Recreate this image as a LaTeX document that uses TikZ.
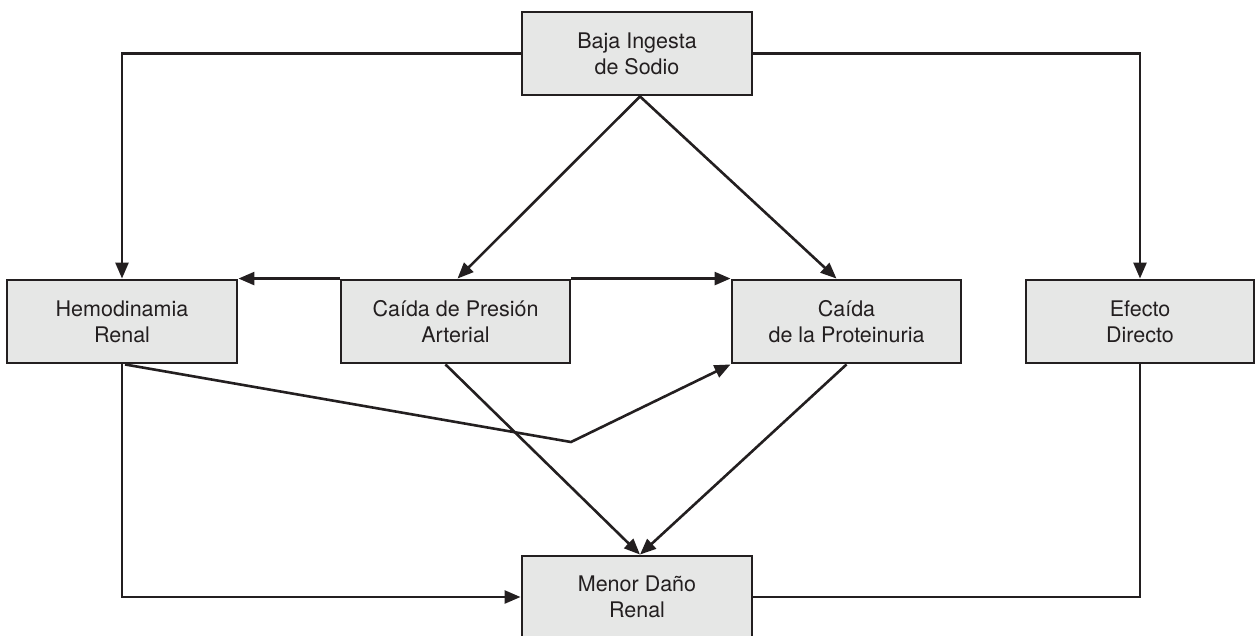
\documentclass[tikz,border=0pt]{standalone}
\usepackage{fontspec}
\setmainfont{TeX Gyre Heros}
\usetikzlibrary{arrows.meta,calc}
\definecolor{boxfill}{HTML}{E6E7E6}
\definecolor{ink}{HTML}{231F20}
\begin{document}
\begin{tikzpicture}[x=1pt,y=-1pt,
  box/.style={draw=ink,fill=boxfill,line width=2.9pt,minimum width=#1,minimum height=83pt,
    inner sep=0pt,align=center,font=\fontsize{21.5}{26}\selectfont,text=ink},
  box/.default=230pt,
  conn/.style={draw=ink,line width=2.6pt},
  arr/.style={conn,-{Triangle[length=16pt,width=13pt]}}]
\useasboundingbox (0,0) rectangle (1256,635);
\node[box] (baja) at (637,53.5) {Baja Ingesta\\de Sodio};
\node[box] (hemo) at (122,321.5) {Hemodinamia\\Renal};
\node[box=229pt] (pres) at (455.5,321.5) {Caída de Presión\\Arterial};
\node[box=229pt] (prot) at (846.5,321.5) {Caída\\de la Proteinuria};
\node[box=228pt] (efec) at (1140,321.5) {Efecto\\Directo};
\node[box,minimum height=82pt] (menor) at (637,597) {Menor Daño\\Renal};
\coordinate (bend) at (571,442);
\draw[arr] (baja.west) -| (hemo.north);
\draw[arr] (baja.east) -| (efec.north);
\draw[arr] ([xshift=3pt]baja.south) -- ([xshift=2pt]pres.north);
\draw[arr] ([xshift=3pt]baja.south) -- ([xshift=-10pt]prot.north);
\draw[arr] (pres.north west) -- (hemo.north east);
\draw[arr] (pres.north east) -- (prot.north west);
\draw[arr] ([xshift=3pt]hemo.south) -- (bend) -- (prot.south west);
\draw[arr] (hemo.south) |- (menor.west);
\draw[arr] ([xshift=-10pt]pres.south) -- ([xshift=3pt]menor.north);
\draw[arr] (prot.south) -- ([xshift=3pt]menor.north);
\draw[conn] (efec.south) |- (menor.east);
\end{tikzpicture}
\end{document}
